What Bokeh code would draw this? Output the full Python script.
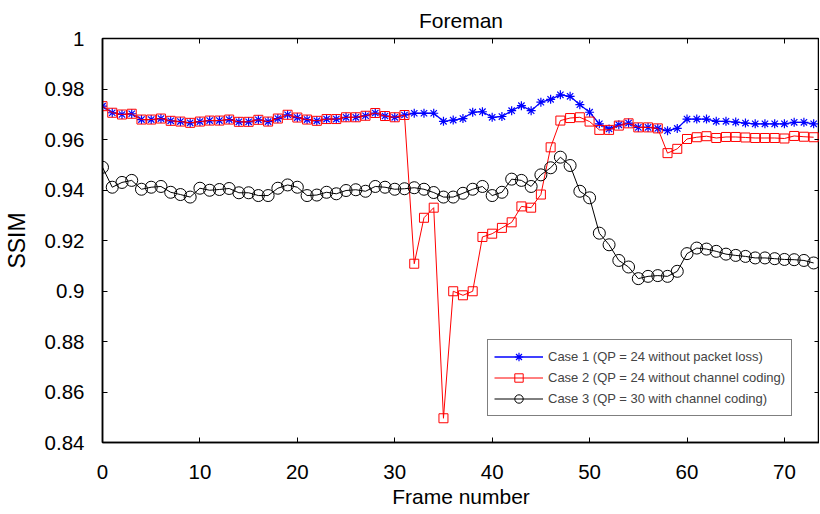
from bokeh.plotting import figure
from bokeh.models import (Range1d, FixedTicker, LinearAxis, Legend, LegendItem, Title)
from bokeh.embed import file_html
from bokeh.resources import INLINE

# ---- data ----
frames = list(range(74))

case1 = [0.9732, 0.9706, 0.9699, 0.9702, 0.9679, 0.9679, 0.9683, 0.9674, 0.9671, 0.9666,
         0.9671, 0.9675, 0.9675, 0.9679, 0.9670, 0.9670, 0.9678, 0.9671, 0.9683, 0.9698,
         0.9687, 0.9679, 0.9674, 0.9681, 0.9681, 0.9688, 0.9688, 0.9694, 0.9705, 0.9693,
         0.9688, 0.9697, 0.9704, 0.9704, 0.9704, 0.9672, 0.9677, 0.9683, 0.9708, 0.9710,
         0.9688, 0.9691, 0.9714, 0.9734, 0.9714, 0.9748, 0.9759, 0.9777, 0.9771, 0.9738,
         0.9708, 0.9662, 0.9642, 0.9658, 0.9665, 0.9648, 0.9648, 0.9644, 0.9635, 0.9644,
         0.9681, 0.9681, 0.9681, 0.9672, 0.9672, 0.9669, 0.9665, 0.9662, 0.9662, 0.9662,
         0.9662, 0.9668, 0.9668, 0.9662]

case2 = [0.9732, 0.9706, 0.9699, 0.9702, 0.9679, 0.9679, 0.9683, 0.9674, 0.9671, 0.9666,
         0.9671, 0.9675, 0.9675, 0.9679, 0.9670, 0.9670, 0.9678, 0.9671, 0.9683, 0.9698,
         0.9687, 0.9679, 0.9674, 0.9681, 0.9681, 0.9688, 0.9688, 0.9694, 0.9705, 0.9693,
         0.9688, 0.9697, 0.9108, 0.9290, 0.9330, 0.8496, 0.8999, 0.8983, 0.8999, 0.9214,
         0.9227, 0.9250, 0.9272, 0.9335, 0.9330, 0.9382, 0.9569, 0.9675, 0.9685, 0.9688,
         0.9671, 0.9638, 0.9638, 0.9655, 0.9664, 0.9648, 0.9648, 0.9644, 0.9546, 0.9563,
         0.9602, 0.9609, 0.9613, 0.9606, 0.9610, 0.9610, 0.9608, 0.9606, 0.9606, 0.9606,
         0.9604, 0.9614, 0.9611, 0.9609]

case3 = [0.9490, 0.9411, 0.9430, 0.9438, 0.9403, 0.9411, 0.9414, 0.9391, 0.9382, 0.9372,
         0.9407, 0.9399, 0.9402, 0.9406, 0.9389, 0.9389, 0.9378, 0.9378, 0.9407, 0.9420,
         0.9411, 0.9378, 0.9380, 0.9391, 0.9385, 0.9398, 0.9401, 0.9395, 0.9414, 0.9411,
         0.9403, 0.9405, 0.9409, 0.9403, 0.9390, 0.9372, 0.9372, 0.9387, 0.9403, 0.9414,
         0.9378, 0.9391, 0.9443, 0.9438, 0.9414, 0.9460, 0.9488, 0.9530, 0.9497, 0.9395,
         0.9369, 0.9229, 0.9183, 0.9121, 0.9095, 0.9049, 0.9058, 0.9061, 0.9058, 0.9078,
         0.9148, 0.9170, 0.9166, 0.9157, 0.9146, 0.9141, 0.9137, 0.9131, 0.9131, 0.9128,
         0.9125, 0.9124, 0.9121, 0.9111]

labels = ["Case 1 (QP = 24 without packet loss)",
          "Case 2 (QP = 24 without channel coding)",
          "Case 3 (QP = 30 with channel coding)"]

x_ticks = [0, 10, 20, 30, 40, 50, 60, 70]
y_ticks = [0.84, 0.86, 0.88, 0.9, 0.92, 0.94, 0.96, 0.98, 1.0]
y_tick_labels = ["0.84", "0.86", "0.88", "0.9", "0.92", "0.94", "0.96", "0.98", "1"]

title_text = "Foreman"
x_label = "Frame number"
y_label = "SSIM"

FONT = "Liberation Sans"

p = figure(frame_width=717, frame_height=404,
           x_range=Range1d(0, 73.6), y_range=Range1d(0.84, 1.0),
           output_backend="svg", toolbar_location=None,
           min_border_left=0, min_border_right=0, min_border_top=0, min_border_bottom=0,
           background_fill_color="white", border_fill_color="white")

p.title = Title(text=title_text, align="center", text_font=FONT, text_font_size="21px",
                text_font_style="normal", text_color="black", standoff=13, offset=4)

p.xgrid.visible = False
p.ygrid.visible = False
p.outline_line_color = "black"
p.outline_line_width = 1.5

override = {t: s for t, s in zip(y_ticks, y_tick_labels)}

for ax in p.xaxis:
    ax.ticker = FixedTicker(ticks=x_ticks)
    ax.axis_label = x_label
for ax in p.yaxis:
    ax.ticker = FixedTicker(ticks=y_ticks)
    ax.major_label_overrides = override
    ax.axis_label = y_label

for ax in list(p.xaxis) + list(p.yaxis):
    ax.minor_tick_line_color = None
    ax.major_tick_in = 5
    ax.major_tick_out = 0
    ax.major_tick_line_color = "black"
    ax.major_tick_line_width = 1
    ax.axis_line_color = "black"
    ax.axis_line_width = 1.5
    ax.major_label_text_font = FONT
    ax.major_label_text_font_size = "20.5px"
    ax.major_label_text_color = "black"
    ax.axis_label_text_font = FONT
    ax.axis_label_text_font_size = "21px"
    ax.axis_label_text_font_style = "normal"
    ax.axis_label_text_color = "black"

p.yaxis.axis_label_text_font_size = "23px"
p.xaxis.major_label_standoff = 22
p.xaxis.axis_label_standoff = 3
p.yaxis.major_label_standoff = 18
p.yaxis.axis_label_standoff = 12

# mirror ticks (top / right), labels not drawn
top = LinearAxis(ticker=FixedTicker(ticks=x_ticks), major_label_text_font_size="1px",
                 major_label_text_color=None,
                 major_tick_in=5, major_tick_out=0, major_label_standoff=0,
                 minor_tick_line_color=None, axis_line_color=None)
right = LinearAxis(ticker=FixedTicker(ticks=y_ticks), major_label_text_font_size="1px",
                   major_label_text_color=None,
                   major_tick_in=5, major_tick_out=0, major_label_standoff=0,
                   minor_tick_line_color=None, axis_line_color=None)
p.add_layout(top, "above")
p.add_layout(right, "right")

# ---- series ----
l1 = p.line(frames, case1, line_color="#0000FF", line_width=1.3)
s1 = p.scatter(frames, case1, marker="asterisk", size=9, line_color="#0000FF", line_width=1.2)
l2 = p.line(frames, case2, line_color="#FF0000", line_width=1)
s2 = p.scatter(frames, case2, marker="square", size=9, fill_color=None,
               line_color="#FF0000", line_width=1)
l3 = p.line(frames, case3, line_color="black", line_width=1)
s3 = p.scatter(frames, case3, marker="circle", size=12, fill_color=None,
               line_color="black", line_width=1)

legend = Legend(items=[LegendItem(label=labels[0], renderers=[l1, s1]),
                       LegendItem(label=labels[1], renderers=[l2, s2]),
                       LegendItem(label=labels[2], renderers=[l3, s3])],
                location=(385, 26), orientation="vertical",
                label_text_font=FONT, label_text_font_size="13px",
                glyph_width=49, glyph_height=21, label_height=21, label_standoff=5,
                spacing=0, padding=6, margin=0,
                border_line_color="black", border_line_width=1,
                background_fill_color="white", background_fill_alpha=1)
p.add_layout(legend, "center")

open("out.html", "w").write(file_html(p, INLINE))
